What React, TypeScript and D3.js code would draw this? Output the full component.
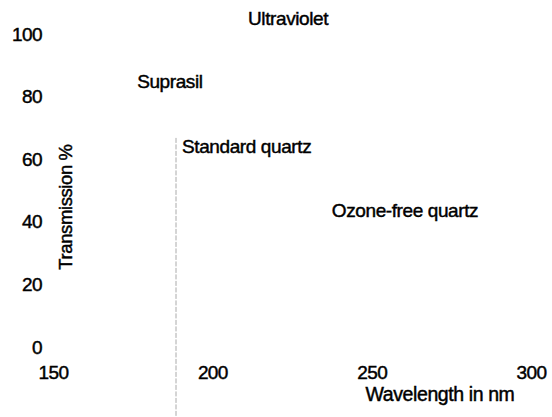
import React, { useRef, useEffect } from "react";
import * as d3 from "d3";

// axis ticks
const wavelengthTicks = [150, 200, 250, 300];
const transmissionTicks = [0, 20, 40, 60, 80, 100];

// curve labels and where they sit (wavelength nm, transmission %)
const curveLabels = ["Ultraviolet", "Suprasil", "Standard quartz", "Ozone-free quartz"];
const labelWavelengths = [211.2, 176.4, 190.5, 237.5];
const labelTransmissions = [102.9, 82.7, 62.0, 41.5];

// the faint vertical cutoff line
const cutoffWavelength = [188.6];
const cutoffRange = [66.8, -22];

const FONT = "'Liberation Sans', Arial, Helvetica, sans-serif";

export default function App() {
  const svgRef = useRef<SVGSVGElement | null>(null);

  useEffect(() => {
    const width = 552;
    const height = 417;

    const svg = d3.select(svgRef.current);
    svg.selectAll("*").remove();
    svg.attr("width", width).attr("height", height);

    svg.append("rect").attr("width", width).attr("height", height).attr("fill", "#fff");

    // scales
    const x = d3.scaleLinear().domain([150, 300]).range([53, 531]);
    const y = d3.scaleLinear().domain([0, 100]).range([347, 34]);

    // scanned text is a bit heavier than plain Arial
    const inkText = (sel: any, size: number, spacing: number) =>
      sel
        .attr("font-family", FONT)
        .attr("font-size", size)
        .attr("letter-spacing", spacing)
        .attr("fill", "#000")
        .attr("stroke", "#000")
        .attr("stroke-width", 0.45);

    // cutoff line
    svg
      .selectAll(".cutoff")
      .data(cutoffWavelength)
      .enter()
      .append("line")
      .attr("class", "cutoff")
      .attr("x1", (d) => x(d))
      .attr("x2", (d) => x(d))
      .attr("y1", y(cutoffRange[0]))
      .attr("y2", y(cutoffRange[1]))
      .attr("stroke", "#aaa")
      .attr("stroke-width", 1)
      .attr("stroke-dasharray", "5,1.5");

    // y axis (labels only)
    const yAxis = svg
      .append("g")
      .attr("transform", "translate(42,0)")
      .call(d3.axisLeft(y).tickValues(transmissionTicks).tickSize(0).tickPadding(0));
    yAxis.select(".domain").remove();
    inkText(yAxis.selectAll("text"), 19, -0.6);

    // x axis (labels only)
    const xAxis = svg
      .append("g")
      .attr("transform", "translate(0,365)")
      .call(d3.axisBottom(x).tickValues(wavelengthTicks).tickSize(0).tickPadding(0));
    xAxis.select(".domain").remove();
    inkText(xAxis.selectAll("text"), 19, -0.6);

    // curve labels
    const labels = svg
      .selectAll(".curve-label")
      .data(curveLabels)
      .enter()
      .append("text")
      .attr("class", "curve-label")
      .attr("x", (_d, i) => x(labelWavelengths[i]))
      .attr("y", (_d, i) => y(labelTransmissions[i]))
      .text((d) => d);
    inkText(labels, 19, -0.4);

    // axis titles
    inkText(
      svg
        .append("text")
        .attr("transform", "translate(72,207) rotate(-90)")
        .attr("text-anchor", "middle")
        .text("Transmission %"),
      18.5,
      -0.4
    );

    inkText(
      svg
        .append("text")
        .attr("x", 440)
        .attr("y", 401)
        .attr("text-anchor", "middle")
        .text("Wavelength in nm"),
      19.5,
      -0.4
    );
  }, []);

  return (
    <svg
      ref={svgRef}
      style={{ position: "absolute", left: 0, top: 0, display: "block" }}
    ></svg>
  );
}
